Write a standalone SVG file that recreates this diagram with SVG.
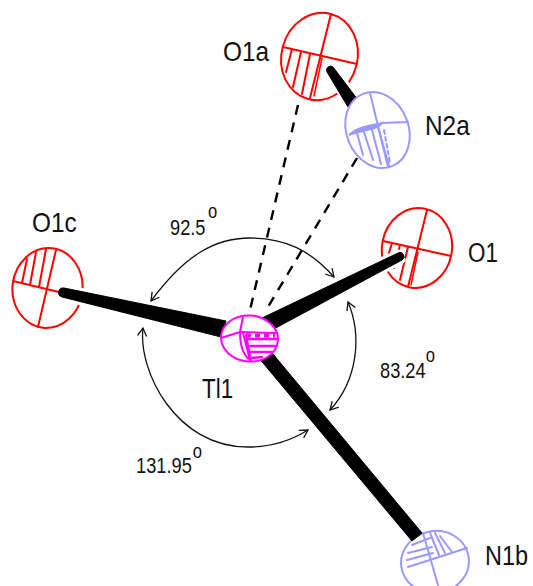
<svg xmlns="http://www.w3.org/2000/svg" width="533" height="586" viewBox="0 0 533 586">
<style>
text{font-family:"Liberation Sans",Arial,sans-serif;fill:#111;stroke:none}
.lb{font-size:28px}
.an{font-size:22px}
.sup{font-size:20px}
.r{fill:#fff;stroke:#f00;stroke-width:2;stroke-linecap:round}
.r line,.r path{fill:none}
.b{fill:#fff;stroke:#99f;stroke-width:2;stroke-linecap:round}
.b line,.b path{fill:none}
.m{fill:#fff;stroke:#f0f;stroke-width:2;stroke-linecap:round}
.m line,.m path{fill:none}
.bond{fill:#000;stroke:#000;stroke-linejoin:round;stroke-width:1}
.halo{fill:#fff;stroke:#fff;stroke-width:7;stroke-linejoin:round}
.dash{fill:none;stroke:#000;stroke-width:2.4;stroke-dasharray:10 8}
.arc{fill:none;stroke:#111;stroke-width:1.3;marker-start:url(#ah);marker-end:url(#ah)}
</style>
<defs>
<marker id="ah" viewBox="-11 -6 13 12" refX="0" refY="0" markerUnits="userSpaceOnUse" markerWidth="13" markerHeight="12" orient="auto-start-reverse">
<path d="M-8-4.500L0 0L-8 4.500" fill="none" stroke="#111" stroke-width="1.3"/>
</marker>
</defs>
<g id="O1a" class="r">
<ellipse cx="319.500" cy="56.500" rx="38" ry="44" transform="rotate(15 319.500 56.500)"/>
<line x1="331" y1="14" x2="310" y2="98"/><line x1="283" y1="47" x2="357" y2="64"/>
<line x1="292" y1="49" x2="286" y2="72"/><line x1="301" y1="52" x2="293" y2="87"/><line x1="310" y1="54" x2="302" y2="94"/><line x1="322" y1="58" x2="314" y2="96" stroke-width="1.500"/>
<text class="lb" transform="translate(223 61) scale(.87 1)">O1a</text>
</g>
<g id="O1" class="r">
<ellipse cx="417" cy="248" rx="35" ry="40" transform="rotate(10 417 248)"/>
<line x1="427" y1="210" x2="408" y2="287"/><line x1="383" y1="241" x2="451" y2="256"/>
<line x1="392" y1="243" x2="388" y2="256"/><line x1="400" y1="245" x2="394" y2="268"/><line x1="408" y1="247" x2="400" y2="280"/><line x1="418" y1="252" x2="411" y2="285" stroke-width="1.500"/>
<text class="lb" transform="translate(468 262) scale(.8 1)">O1</text>
</g>
<g id="O1c" class="r">
<ellipse cx="47.500" cy="288" rx="35" ry="40" transform="rotate(7 47.500 288)"/>
<line x1="56" y1="250" x2="38" y2="327"/><line x1="13" y1="281" x2="63" y2="293"/>
<line x1="27" y1="259" x2="22" y2="283"/><line x1="36" y1="252" x2="30" y2="285"/><line x1="46" y1="249" x2="39" y2="287"/>
<text class="lb" transform="translate(32 232) scale(.87 1)">O1c</text>
</g>
<g id="N1b" class="b">
<ellipse cx="435" cy="562" rx="34" ry="31" transform="rotate(-10 435 562)"/>
<line x1="408" y1="567" x2="467" y2="548"/><line x1="423" y1="533" x2="438" y2="585"/>
<line x1="412" y1="545" x2="430" y2="538"/><line x1="408" y1="553" x2="432" y2="547"/><line x1="407" y1="560" x2="433" y2="553"/>
<line x1="430" y1="533" x2="439" y2="555"/><line x1="435" y1="533" x2="445" y2="553"/><line x1="440" y1="536" x2="452" y2="552"/>
<text class="lb" transform="translate(485 565) scale(.84 1)">N1b</text>
</g>
<g id="connectors">
<path class="dash" d="M298 105L250 310"/>
<path class="dash" d="M357 158L265 312"/>
<path class="halo" d="M328 73L333 67L357 99L349 105Z"/>
<path class="bond" d="M327 72A4 4 0 0 1 333 67L358 100L348 107Z"/>
<path class="halo" d="M64 288L226 321L221 337L62 297Z"/>
<path class="bond" d="M64 288L226 321L221 337L62 297A4.500 4.500 0 0 1 64 288Z"/>
<path class="halo" d="M398 253L402 260L272 330L262 318Z"/>
<path class="bond" d="M398 253A3.800 3.800 0 0 1 402 260L272 330L262 318Z"/>
<path class="bond" d="M268 348L422 533L412 541L258 357Z"/>
<path class="arc" d="M151 301C185 255 215 238 250 238C285 238 310 250 334 277"/>
<path class="arc" d="M348 302C362 335 358 380 330 410"/>
<path class="arc" d="M143 328C138 370 175 447 248 447C272 447 292 440 308 430"/>
</g>
<g id="N2a" class="b">
<ellipse cx="377.500" cy="130" rx="31" ry="39" transform="rotate(-22 377.500 130)"/>
<line x1="370" y1="93" x2="388" y2="167"/><line x1="382" y1="123" x2="408" y2="122"/>
<path d="M349 135C358 126 372 126 382 123C378 130 360 130 349 135Z" style="fill:#99f"/>
<line x1="357" y1="133" x2="363" y2="155"/><line x1="364" y1="132" x2="373" y2="160"/><line x1="372" y1="130" x2="381" y2="164"/><line x1="378" y1="127" x2="389" y2="166"/>
<line x1="384" y1="130" x2="390" y2="163" stroke-dasharray="4 3"/>
<text class="lb" transform="translate(425 135) scale(.87 1)">N2a</text>
</g>
<g id="Tl1" class="m">
<ellipse cx="249.500" cy="338.500" rx="28.500" ry="23" transform="rotate(5 249.500 338.500)"/>
<line x1="243" y1="317" x2="240" y2="332"/><line x1="221" y1="338" x2="240" y2="332"/><line x1="240" y1="332" x2="277" y2="333"/>
<path d="M240 332C240 345 243 355 250 360M243 333L250 360M246 335L251 360"/>
<path d="M248 339L277 339M249 346L275 346M250 352L272 352M251 358L262 357" stroke-width="2.500"/>
<path d="M246 335.500L275 335.500" stroke-width="4" stroke-dasharray="5 4" stroke-linecap="butt"/>
<text class="lb" transform="translate(202 398) scale(.8 1)">Tl1</text>
</g>
<g id="angles">
<text class="an" transform="translate(170 235) scale(.83 1)">92.5<tspan class="sup" dx="3" dy="-17">o</tspan></text>
<text class="an" transform="translate(380 378) scale(.83 1)">83.24<tspan class="sup" dx="0" dy="-16">o</tspan></text>
<text class="an" transform="translate(136 473) scale(.83 1)">131.95<tspan class="sup" dx="1" dy="-15">o</tspan></text>
</g>
</svg>
